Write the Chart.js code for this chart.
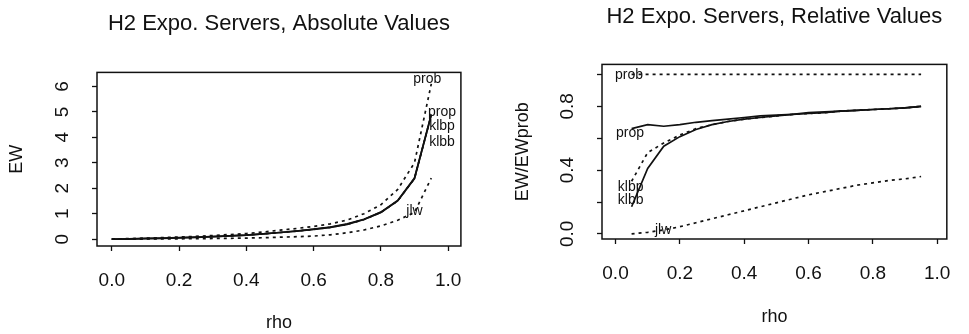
<!DOCTYPE html>
<html>
<head>
<meta charset="utf-8">
<script src="https://cdn.jsdelivr.net/npm/chart.js@4.4.1/dist/chart.umd.min.js"></script>
<style>
  body { margin: 0; background: #fff; }
  #wrap { position: relative; width: 969px; height: 334px; }
  canvas { position: absolute; top: 0; }
  #absChart { left: 0; }
  #relChart { left: 480px; }
</style>
</head>
<body>
<div id="wrap">
  <canvas id="absChart" width="480" height="334"></canvas>
  <canvas id="relChart" width="489" height="334"></canvas>
</div>
<script>
let ink = '#111'
let family = '"Liberation Sans", Arial, Helvetica, sans-serif'

// left panel: absolute EW
let rhoAbs = [0, 0.05, 0.1, 0.15, 0.2, 0.25, 0.3, 0.35, 0.4, 0.45, 0.5, 0.55, 0.6, 0.65, 0.7, 0.75, 0.8, 0.85, 0.9, 0.95]
let probAbs = [0, 0.02, 0.04, 0.06, 0.08, 0.11, 0.14, 0.18, 0.22, 0.28, 0.35, 0.42, 0.5, 0.6, 0.75, 1.0, 1.35, 1.95, 3.0, 6.1]
let propAbs = [0, 0.013, 0.028, 0.042, 0.056, 0.077, 0.1, 0.13, 0.16, 0.21, 0.26, 0.32, 0.39, 0.47, 0.6, 0.78, 1.06, 1.52, 2.4, 4.9]
let klbpAbs = [0, 0.007, 0.02, 0.034, 0.05, 0.072, 0.096, 0.126, 0.158, 0.205, 0.26, 0.315, 0.38, 0.46, 0.58, 0.77, 1.05, 1.5, 2.38, 4.88]
let klbbAbs = [0, 0.004, 0.016, 0.033, 0.049, 0.072, 0.096, 0.127, 0.158, 0.205, 0.26, 0.315, 0.38, 0.46, 0.58, 0.77, 1.05, 1.5, 2.38, 4.88]
let jlwAbs = [0, 0, 0.004, 0.008, 0.012, 0.018, 0.024, 0.032, 0.042, 0.055, 0.075, 0.095, 0.12, 0.17, 0.25, 0.36, 0.52, 0.74, 1.05, 2.4]

// right panel: EW / EW of prob
let rhoRel = [0.05, 0.1, 0.15, 0.2, 0.25, 0.3, 0.35, 0.4, 0.45, 0.5, 0.55, 0.6, 0.65, 0.7, 0.75, 0.8, 0.85, 0.9, 0.95]
let probRel = [1, 1, 1, 1, 1, 1, 1, 1, 1, 1, 1, 1, 1, 1, 1, 1, 1, 1, 1]
let propRel = [0.66, 0.685, 0.675, 0.685, 0.7, 0.71, 0.72, 0.73, 0.74, 0.745, 0.75, 0.76, 0.765, 0.77, 0.775, 0.78, 0.785, 0.79, 0.8]
let klbpRel = [0.33, 0.51, 0.57, 0.62, 0.66, 0.685, 0.705, 0.72, 0.73, 0.74, 0.75, 0.755, 0.76, 0.77, 0.775, 0.78, 0.785, 0.79, 0.8]
let klbbRel = [0.17, 0.41, 0.55, 0.61, 0.655, 0.685, 0.705, 0.72, 0.73, 0.74, 0.75, 0.755, 0.76, 0.77, 0.775, 0.78, 0.785, 0.79, 0.8]
let jlwRel = [0, 0.01, 0.025, 0.045, 0.07, 0.095, 0.12, 0.145, 0.17, 0.195, 0.22, 0.245, 0.265, 0.285, 0.305, 0.32, 0.335, 0.345, 0.36]

let xTicks = [0, 0.2, 0.4, 0.6, 0.8, 1.0]
let absTicks = [0, 1, 2, 3, 4, 5, 6]
let relTicks = [0, 0.2, 0.4, 0.6, 0.8, 1.0]

// curve labels written inside the plots, in data units
let absNotes = [['prob', 0.938, 6.27], ['prop', 0.982, 5.0], ['klbp', 0.982, 4.43], ['klbb', 0.982, 3.8], ['jlw', 0.9, 1.1]]
let relNotes = [['prob', 0.042, 0.995], ['prop', 0.045, 0.635], ['klbp', 0.047, 0.296], ['klbb', 0.047, 0.214], ['jlw', 0.148, 0.025]]

function lineSet(label, xs, ys, dotted) {
  return {
    label: label,
    data: xs.map((x, i) => ({x: x, y: ys[i]})),
    borderColor: ink,
    borderWidth: 1.7,
    borderDash: dotted ? [3, 4] : [],
    pointRadius: 0,
    tension: 0,
    fill: false,
  }
}

let framePlugin = {
  id: 'frame',
  afterDatasetsDraw(chart) {
    let a = chart.chartArea
    let ctx = chart.ctx
    ctx.save()
    ctx.strokeStyle = ink
    ctx.lineWidth = 1.5
    ctx.strokeRect(a.left, a.top, a.right - a.left, a.bottom - a.top)
    ctx.restore()
  },
}

let notesPlugin = {
  id: 'notes',
  afterDatasetsDraw(chart, args, opts) {
    let ctx = chart.ctx
    let xs = chart.scales.x
    let ys = chart.scales.y
    ctx.save()
    ctx.font = '14px ' + family
    ctx.fillStyle = ink
    ctx.textAlign = 'center'
    ctx.textBaseline = 'middle'
    opts.items.forEach((n) => {
      ctx.fillText(n[0], xs.getPixelForValue(n[1]), ys.getPixelForValue(n[2]))
    })
    ctx.restore()
  },
}

function panelOptions(p) {
  return {
    responsive: false,
    animation: false,
    layout: {padding: {left: 0, right: p.padRight, top: 0, bottom: 0}},
    plugins: {
      legend: {display: false},
      tooltip: {enabled: false},
      notes: {items: p.notes},
      title: {
        display: true,
        text: p.title,
        fullSize: false,
        color: ink,
        font: {family: family, size: 22, weight: 'normal'},
        padding: {top: p.titleTop, bottom: p.titleBottom},
      },
    },
    scales: {
      x: {
        type: 'linear',
        min: p.xMin,
        max: p.xMax,
        afterBuildTicks: (s) => { s.ticks = xTicks.map((v) => ({value: v})) },
        afterFit: (s) => { s.height = p.xHeight },
        grid: {drawOnChartArea: false, drawTicks: true, tickLength: 5, tickColor: ink, tickWidth: 1.3},
        border: {display: false},
        ticks: {
          color: ink,
          font: {family: family, size: 19},
          padding: 18,
          maxRotation: 0,
          autoSkip: false,
          callback: (v) => v.toFixed(1),
        },
        title: {display: true, text: 'rho', color: ink, font: {family: family, size: 18}, padding: {top: 0, bottom: p.rhoPad}},
      },
      y: {
        type: 'linear',
        min: p.yMin,
        max: p.yMax,
        afterBuildTicks: (s) => { s.ticks = p.yTicks.map((v) => ({value: v})) },
        afterFit: (s) => { s.width = p.yWidth },
        grid: {drawOnChartArea: false, drawTicks: true, tickLength: 5, tickColor: ink, tickWidth: 1.3},
        border: {display: false},
        ticks: {
          color: ink,
          font: {family: family, size: 19},
          padding: p.yTickPad,
          minRotation: 90,
          maxRotation: 90,
          crossAlign: 'center',
          autoSkip: false,
          callback: p.yLabel,
        },
        title: {display: true, text: p.yTitle, color: ink, font: {family: family, size: 18}, padding: {top: p.yTitlePad, bottom: 0}},
      },
    },
  }
}

new Chart(document.getElementById('absChart'), {
  type: 'line',
  data: {
    datasets: [
      lineSet('prob', rhoAbs, probAbs, true),
      lineSet('prop', rhoAbs, propAbs, false),
      lineSet('klbp', rhoAbs, klbpAbs, true),
      lineSet('klbb', rhoAbs, klbbAbs, false),
      lineSet('jlw', rhoAbs, jlwAbs, true),
    ],
  },
  options: panelOptions({
    title: 'H2 Expo. Servers, Absolute Values',
    titleTop: 11, titleBottom: 35,
    padRight: 17,
    xMin: -0.044, xMax: 1.038, xHeight: 88, rhoPad: 0,
    yMin: -0.27, yMax: 6.55, yTicks: absTicks, yWidth: 97, yTickPad: 24,
    yLabel: (v) => String(v),
    yTitle: 'EW', yTitlePad: 6,
    notes: absNotes,
  }),
  plugins: [framePlugin, notesPlugin],
})

new Chart(document.getElementById('relChart'), {
  type: 'line',
  data: {
    datasets: [
      lineSet('prob', rhoRel, probRel, true),
      lineSet('prop', rhoRel, propRel, false),
      lineSet('klbp', rhoRel, klbpRel, true),
      lineSet('klbb', rhoRel, klbbRel, false),
      lineSet('jlw', rhoRel, jlwRel, true),
    ],
  },
  options: panelOptions({
    title: 'H2 Expo. Servers, Relative Values',
    titleTop: 4, titleBottom: 34,
    padRight: 6,
    xMin: -0.042, xMax: 1.03, xHeight: 95, rhoPad: 6,
    yMin: -0.032, yMax: 1.063, yTicks: relTicks, yWidth: 122, yTickPad: 16,
    yLabel: (v, i) => (i % 2 === 0 ? v.toFixed(1) : ''),
    yTitle: 'EW/EWprob', yTitlePad: 32,
    notes: relNotes,
  }),
  plugins: [framePlugin, notesPlugin],
})
</script>
</body>
</html>
